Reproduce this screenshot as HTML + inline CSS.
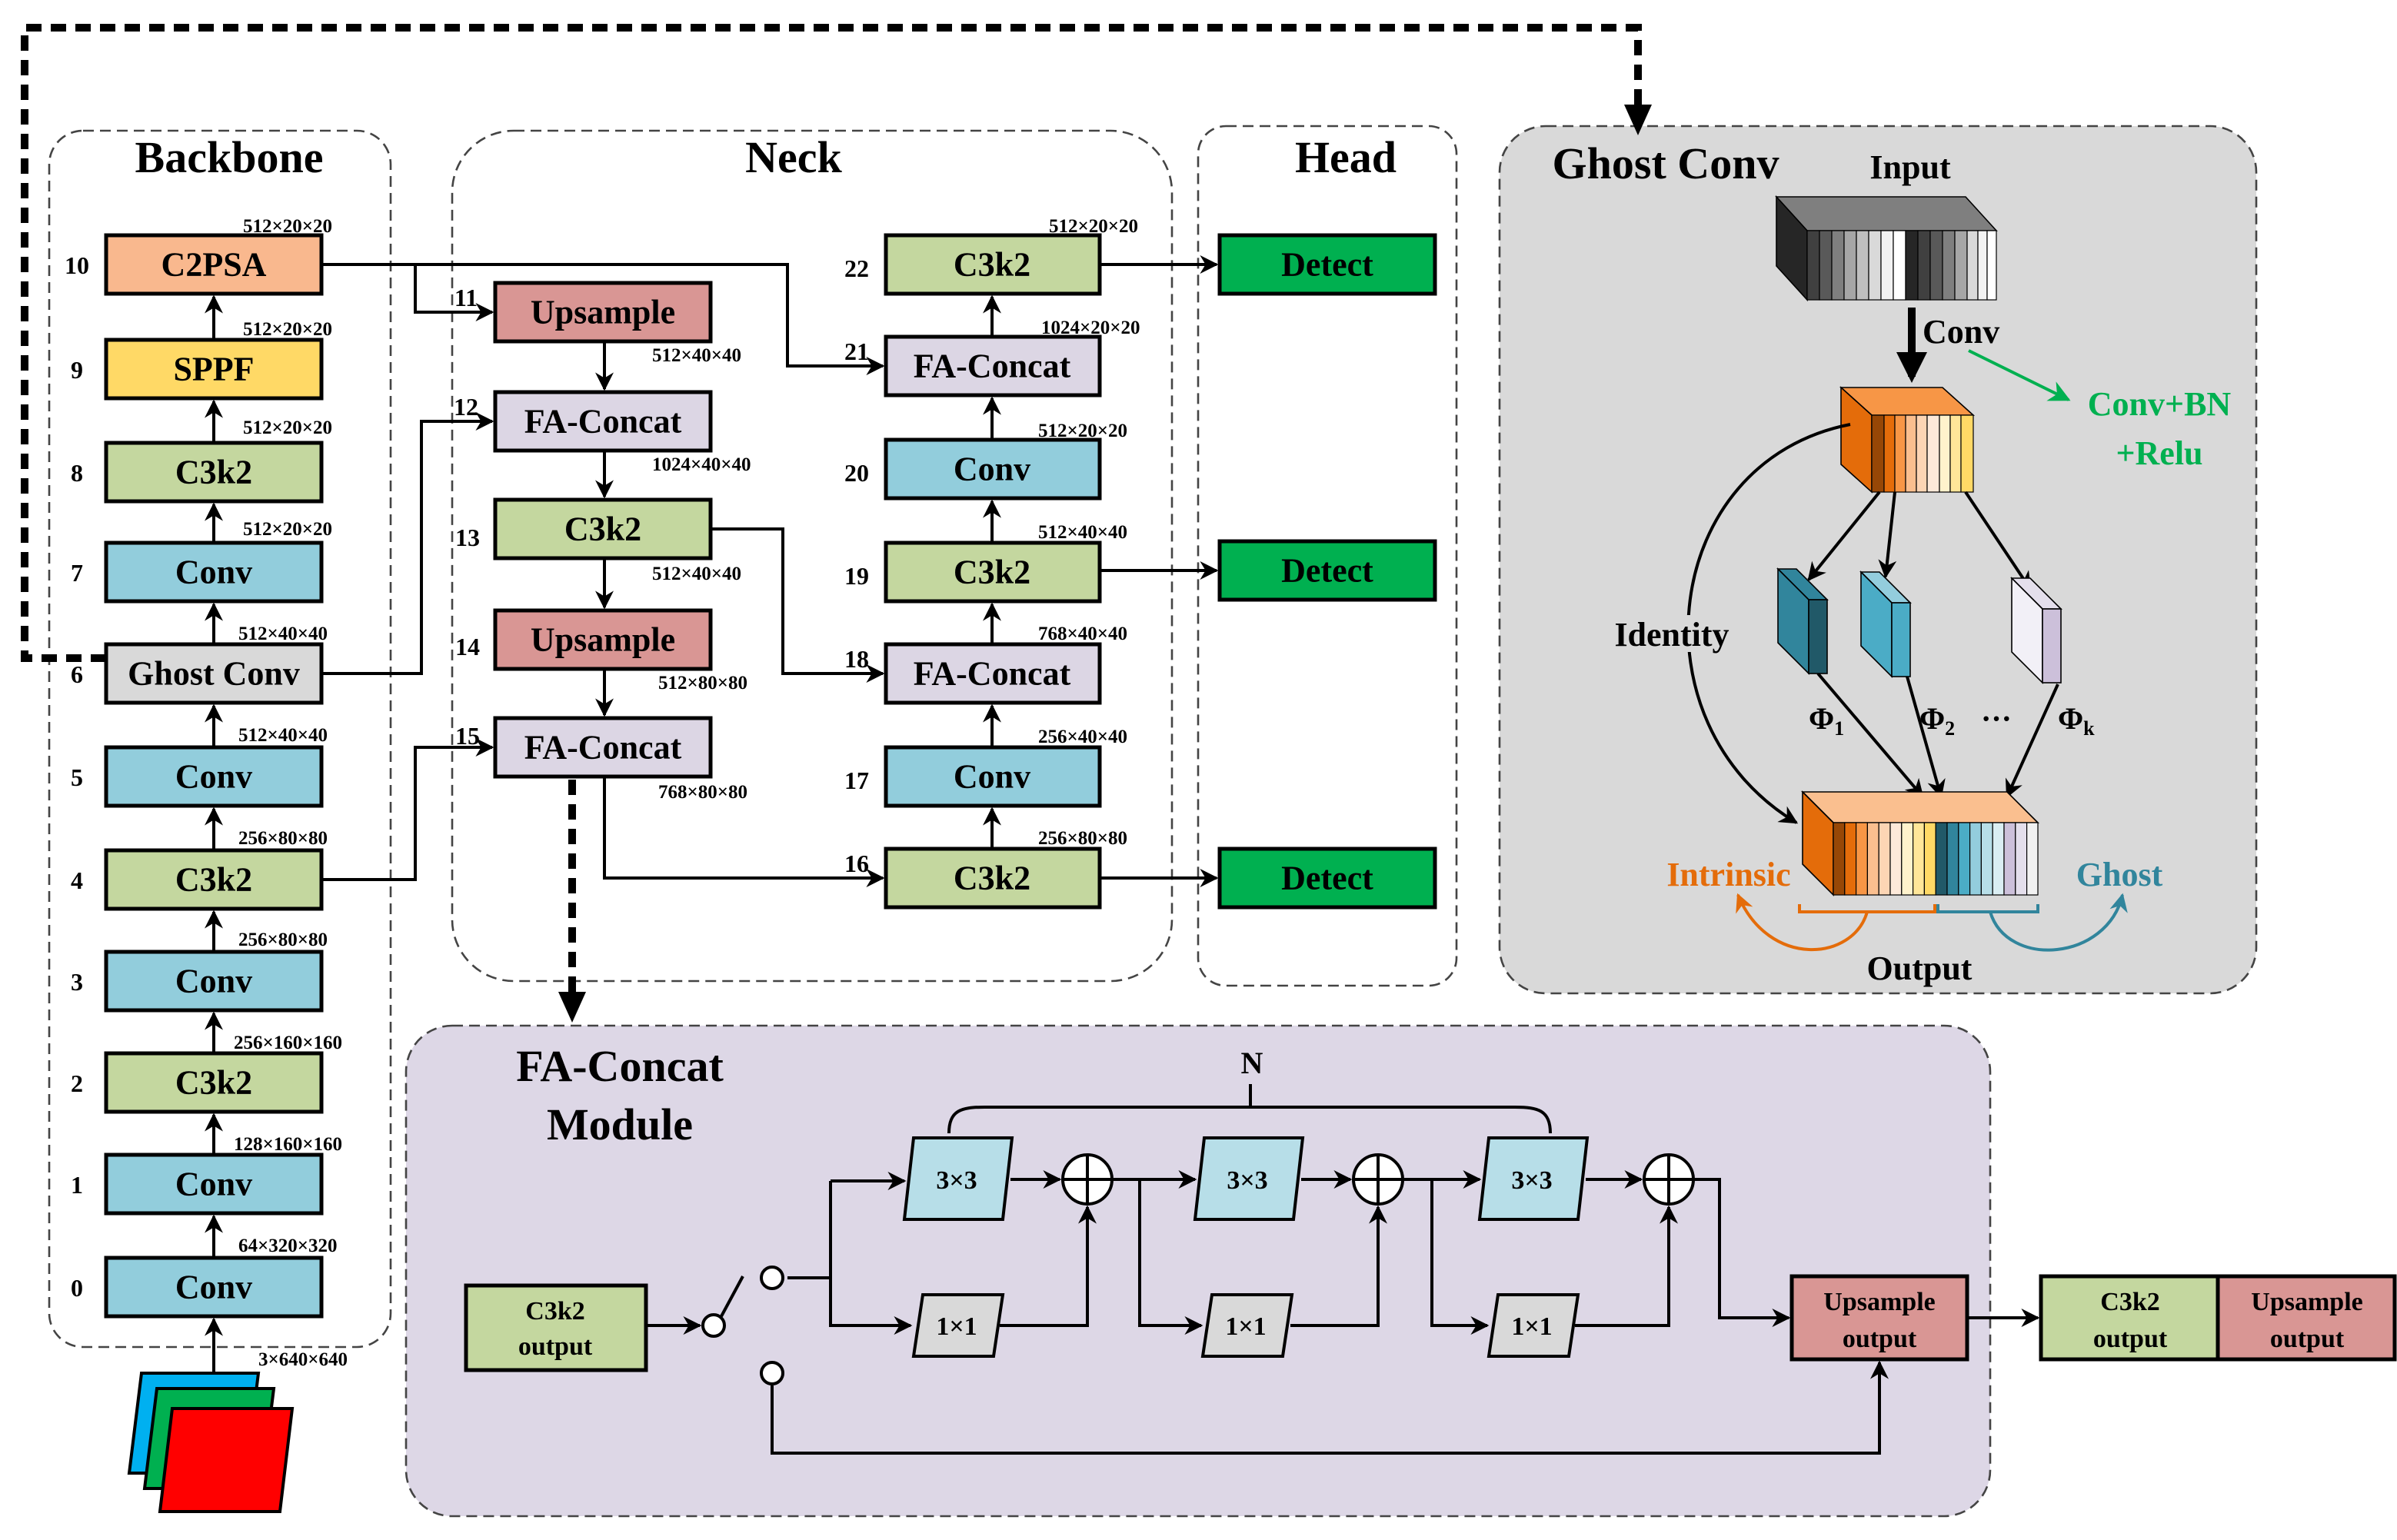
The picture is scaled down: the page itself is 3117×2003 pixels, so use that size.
<!DOCTYPE html>
<html><head><meta charset="utf-8"><style>
html,body{margin:0;padding:0;background:#fff}
svg{display:block}
text{font-family:"Liberation Serif",serif;font-weight:bold;fill:#000}
.b{font-size:22px;text-anchor:middle;dominant-baseline:central}
.d{font-size:12.5px}
.n{font-size:16px;text-anchor:middle}
.t{font-size:29px;text-anchor:middle}
.bx{stroke:#000;stroke-width:2.5}
.ln{stroke:#000;stroke-width:2;fill:none}
</style></head><body>
<svg width="3117" height="2003" viewBox="0 0 1558.5 1001.5" xmlns="http://www.w3.org/2000/svg">
<defs>
<marker id="a" viewBox="0 0 10 10" refX="9" refY="5" markerWidth="6" markerHeight="6" orient="auto"><path d="M0,0L10,5L0,10L3,5z" fill="#000"/></marker>
<marker id="ab" viewBox="0 0 10 10" refX="8" refY="5" markerWidth="4" markerHeight="4" orient="auto"><path d="M0,0L10,5L0,10z" fill="#000"/></marker>
<marker id="ag" viewBox="0 0 10 10" refX="9" refY="5" markerWidth="7" markerHeight="7" orient="auto"><path d="M0,0L10,5L0,10L3,5z" fill="#00b050"/></marker>
<marker id="ao" viewBox="0 0 10 10" refX="9" refY="5" markerWidth="6" markerHeight="6" orient="auto"><path d="M0,0L10,5L0,10L3,5z" fill="#e46c0a"/></marker>
<marker id="at" viewBox="0 0 10 10" refX="9" refY="5" markerWidth="6" markerHeight="6" orient="auto"><path d="M0,0L10,5L0,10L3,5z" fill="#31859c"/></marker>
</defs>

<!-- panels -->
<rect x="32" y="85" width="222" height="791" rx="22" fill="none" stroke="#444" stroke-width="1.3" stroke-dasharray="7,4"/>
<rect x="294" y="85" width="468" height="553" rx="40" fill="none" stroke="#444" stroke-width="1.3" stroke-dasharray="7,4"/>
<rect x="779" y="82" width="168" height="559" rx="18" fill="none" stroke="#444" stroke-width="1.3" stroke-dasharray="7,4"/>
<rect x="975" y="82" width="492" height="564" rx="30" fill="#d9d9d9" stroke="#444" stroke-width="1.3" stroke-dasharray="7,4"/>
<rect x="264" y="667" width="1030" height="319" rx="30" fill="#ddd7e6" stroke="#444" stroke-width="1.3" stroke-dasharray="7,4"/>

<text class="t" x="149" y="112">Backbone</text>
<text class="t" x="516" y="112">Neck</text>
<text class="t" x="875" y="112">Head</text>
<text class="t" x="1083" y="116">Ghost Conv</text>

<!-- big dashed connector -->
<path d="M69,428 H16 V18 H1065 V75" fill="none" stroke="#000" stroke-width="5" stroke-dasharray="10,6"/>
<path d="M1056,68 L1065,88 L1074,68z" fill="#000"/>
<path d="M372,507 V652" fill="none" stroke="#000" stroke-width="5" stroke-dasharray="10,6"/>
<path d="M363,645 L372,665 L381,645z" fill="#000"/>

<!-- Backbone blocks -->
<g>
<rect class="bx" x="69" y="153" width="140" height="38" fill="#f9b88e"/><text class="b" x="139" y="172">C2PSA</text>
<rect class="bx" x="69" y="221" width="140" height="38" fill="#ffd966"/><text class="b" x="139" y="240">SPPF</text>
<rect class="bx" x="69" y="288" width="140" height="38" fill="#c4d79f"/><text class="b" x="139" y="307">C3k2</text>
<rect class="bx" x="69" y="353" width="140" height="38" fill="#92cddc"/><text class="b" x="139" y="372">Conv</text>
<rect class="bx" x="69" y="419" width="140" height="38" fill="#d9d9d9"/><text class="b" x="139" y="438">Ghost Conv</text>
<rect class="bx" x="69" y="486" width="140" height="38" fill="#92cddc"/><text class="b" x="139" y="505">Conv</text>
<rect class="bx" x="69" y="553" width="140" height="38" fill="#c4d79f"/><text class="b" x="139" y="572">C3k2</text>
<rect class="bx" x="69" y="619" width="140" height="38" fill="#92cddc"/><text class="b" x="139" y="638">Conv</text>
<rect class="bx" x="69" y="685" width="140" height="38" fill="#c4d79f"/><text class="b" x="139" y="704">C3k2</text>
<rect class="bx" x="69" y="751" width="140" height="38" fill="#92cddc"/><text class="b" x="139" y="770">Conv</text>
<rect class="bx" x="69" y="818" width="140" height="38" fill="#92cddc"/><text class="b" x="139" y="837">Conv</text>
</g>
<g class="n">
<text class="n" x="50" y="178">10</text><text class="n" x="50" y="246">9</text><text class="n" x="50" y="313">8</text><text class="n" x="50" y="378">7</text><text class="n" x="50" y="444">6</text><text class="n" x="50" y="511">5</text><text class="n" x="50" y="578">4</text><text class="n" x="50" y="644">3</text><text class="n" x="50" y="710">2</text><text class="n" x="50" y="776">1</text><text class="n" x="50" y="843">0</text>
</g>
<g class="ln">
<path d="M139,221 V193" marker-end="url(#a)"/><path d="M139,288 V261" marker-end="url(#a)"/><path d="M139,353 V328" marker-end="url(#a)"/><path d="M139,419 V393" marker-end="url(#a)"/><path d="M139,486 V459" marker-end="url(#a)"/><path d="M139,553 V526" marker-end="url(#a)"/><path d="M139,619 V593" marker-end="url(#a)"/><path d="M139,685 V659" marker-end="url(#a)"/><path d="M139,751 V725" marker-end="url(#a)"/><path d="M139,818 V791" marker-end="url(#a)"/><path d="M139,900 V858" marker-end="url(#a)"/>
</g>
<g class="d">
<text class="d" x="158" y="151">512×20×20</text><text class="d" x="158" y="218">512×20×20</text><text class="d" x="158" y="282">512×20×20</text><text class="d" x="158" y="348">512×20×20</text><text class="d" x="155" y="416">512×40×40</text><text class="d" x="155" y="482">512×40×40</text><text class="d" x="155" y="549">256×80×80</text><text class="d" x="155" y="615">256×80×80</text><text class="d" x="152" y="682">256×160×160</text><text class="d" x="152" y="748">128×160×160</text><text class="d" x="155" y="814">64×320×320</text><text class="d" x="168" y="888">3×640×640</text>
</g>
<!-- input image -->
<polygon points="92,893 168,893 160,958 84,958" fill="#00b0f0" stroke="#000" stroke-width="2"/>
<polygon points="102,903 178,903 170,968 94,968" fill="#00b050" stroke="#000" stroke-width="2"/>
<polygon points="112,916 190,916 182,983 104,983" fill="#ff0000" stroke="#000" stroke-width="2"/>

<!-- Neck left -->
<rect class="bx" x="322" y="184" width="140" height="38" fill="#d99694"/><text class="b" x="392" y="203">Upsample</text>
<rect class="bx" x="322" y="255" width="140" height="38" fill="#dcd6e4"/><text class="b" x="392" y="274">FA-Concat</text>
<rect class="bx" x="322" y="325" width="140" height="38" fill="#c4d79f"/><text class="b" x="392" y="344">C3k2</text>
<rect class="bx" x="322" y="397" width="140" height="38" fill="#d99694"/><text class="b" x="392" y="416">Upsample</text>
<rect class="bx" x="322" y="467" width="140" height="38" fill="#dcd6e4"/><text class="b" x="392" y="486">FA-Concat</text>
<text class="n" x="303" y="199">11</text><text class="n" x="303" y="270">12</text><text class="n" x="304" y="355">13</text><text class="n" x="304" y="426">14</text><text class="n" x="304" y="484">15</text>
<text class="d" x="424" y="235">512×40×40</text><text class="d" x="424" y="306">1024×40×40</text><text class="d" x="424" y="377">512×40×40</text><text class="d" x="428" y="448">512×80×80</text><text class="d" x="428" y="519">768×80×80</text>

<!-- Neck right -->
<rect class="bx" x="576" y="153" width="139" height="38" fill="#c4d79f"/><text class="b" x="645" y="172">C3k2</text>
<rect class="bx" x="576" y="219" width="139" height="38" fill="#dcd6e4"/><text class="b" x="645" y="238">FA-Concat</text>
<rect class="bx" x="576" y="286" width="139" height="38" fill="#92cddc"/><text class="b" x="645" y="305">Conv</text>
<rect class="bx" x="576" y="353" width="139" height="38" fill="#c4d79f"/><text class="b" x="645" y="372">C3k2</text>
<rect class="bx" x="576" y="419" width="139" height="38" fill="#dcd6e4"/><text class="b" x="645" y="438">FA-Concat</text>
<rect class="bx" x="576" y="486" width="139" height="38" fill="#92cddc"/><text class="b" x="645" y="505">Conv</text>
<rect class="bx" x="576" y="552" width="139" height="38" fill="#c4d79f"/><text class="b" x="645" y="571">C3k2</text>
<text class="n" x="557" y="180">22</text><text class="n" x="557" y="234">21</text><text class="n" x="557" y="313">20</text><text class="n" x="557" y="380">19</text><text class="n" x="557" y="434">18</text><text class="n" x="557" y="513">17</text><text class="n" x="557" y="567">16</text>
<text class="d" x="682" y="151">512×20×20</text><text class="d" x="677" y="217">1024×20×20</text><text class="d" x="675" y="284">512×20×20</text><text class="d" x="675" y="350">512×40×40</text><text class="d" x="675" y="416">768×40×40</text><text class="d" x="675" y="483">256×40×40</text><text class="d" x="675" y="549">256×80×80</text>

<!-- Head -->
<rect class="bx" x="793" y="153" width="140" height="38" fill="#00b050"/><text class="b" x="863" y="172">Detect</text>
<rect class="bx" x="793" y="352" width="140" height="38" fill="#00b050"/><text class="b" x="863" y="371">Detect</text>
<rect class="bx" x="793" y="552" width="140" height="38" fill="#00b050"/><text class="b" x="863" y="571">Detect</text>

<g class="ln">
<path d="M209,172 H512 V238 H574" marker-end="url(#a)"/>
<path d="M270,172 V203 H320" marker-end="url(#a)"/>
<path d="M209,438 H274 V274 H320" marker-end="url(#a)"/>
<path d="M209,572 H270 V486 H320" marker-end="url(#a)"/>
<path d="M393,222 V253" marker-end="url(#a)"/><path d="M393,293 V323" marker-end="url(#a)"/><path d="M393,363 V395" marker-end="url(#a)"/><path d="M393,435 V465" marker-end="url(#a)"/>
<path d="M462,344 H509 V438 H574" marker-end="url(#a)"/>
<path d="M393,505 V571 H574" marker-end="url(#a)"/>
<path d="M645,552 V526" marker-end="url(#a)"/><path d="M645,486 V459" marker-end="url(#a)"/><path d="M645,419 V393" marker-end="url(#a)"/><path d="M645,353 V326" marker-end="url(#a)"/><path d="M645,286 V259" marker-end="url(#a)"/><path d="M645,219 V193" marker-end="url(#a)"/>
<path d="M715,172 H791" marker-end="url(#a)"/><path d="M715,371 H791" marker-end="url(#a)"/><path d="M715,571 H791" marker-end="url(#a)"/>
</g>

<!-- Ghost Conv contents -->
<text x="1242" y="116" style="font-size:22px;text-anchor:middle">Input</text>
<polygon points="1155,128 1278,128 1298,150 1175,150" fill="#7f7f7f" stroke="#000" stroke-width="0.8"/>
<polygon points="1155,128 1175,150 1175,195 1155,173" fill="#262626" stroke="#000" stroke-width="0.8"/>
<g stroke="#000" stroke-width="0.6">
<rect x="1175" y="150" width="8" height="45" fill="#404040"/><rect x="1183" y="150" width="8" height="45" fill="#595959"/><rect x="1191" y="150" width="8" height="45" fill="#7f7f7f"/><rect x="1199" y="150" width="8" height="45" fill="#a6a6a6"/><rect x="1207" y="150" width="8" height="45" fill="#bfbfbf"/><rect x="1215" y="150" width="8" height="45" fill="#d9d9d9"/><rect x="1223" y="150" width="8" height="45" fill="#f2f2f2"/><rect x="1231" y="150" width="8" height="45" fill="#ffffff"/>
<rect x="1239" y="150" width="8" height="45" fill="#262626"/><rect x="1247" y="150" width="8" height="45" fill="#404040"/><rect x="1255" y="150" width="8" height="45" fill="#595959"/><rect x="1263" y="150" width="8" height="45" fill="#7f7f7f"/><rect x="1271" y="150" width="8" height="45" fill="#a6a6a6"/><rect x="1279" y="150" width="7" height="45" fill="#d9d9d9"/><rect x="1286" y="150" width="6" height="45" fill="#f2f2f2"/><rect x="1292" y="150" width="6" height="45" fill="#fff"/>
</g>
<path d="M1243,200 V245" stroke="#000" stroke-width="5" marker-end="url(#ab)"/>
<text x="1250" y="223" style="font-size:22px">Conv</text>
<path d="M1280,228 L1345,260" stroke="#00b050" stroke-width="2" marker-end="url(#ag)"/>
<text x="1404" y="270" style="font-size:22px;fill:#00b050;text-anchor:middle">Conv+BN</text>
<text x="1404" y="302" style="font-size:22px;fill:#00b050;text-anchor:middle">+Relu</text>

<polygon points="1197,252 1263,252 1283,270 1217,270" fill="#f79646" stroke="#000" stroke-width="0.8"/>
<polygon points="1197,252 1217,270 1217,320 1197,302" fill="#e46c0a" stroke="#000" stroke-width="0.8"/>
<g stroke="#000" stroke-width="0.6">
<rect x="1217" y="270" width="8" height="50" fill="#974706"/><rect x="1225" y="270" width="7" height="50" fill="#e46c0a"/><rect x="1232" y="270" width="7" height="50" fill="#f79646"/><rect x="1239" y="270" width="7" height="50" fill="#fabf8f"/><rect x="1246" y="270" width="7" height="50" fill="#fcd5b4"/><rect x="1253" y="270" width="8" height="50" fill="#fde9d9"/><rect x="1261" y="270" width="7" height="50" fill="#fff2cc"/><rect x="1268" y="270" width="7" height="50" fill="#ffe699"/><rect x="1275" y="270" width="8" height="50" fill="#ffd966"/>
</g>
<g class="ln">
<path d="M1222,320 L1176,377" marker-end="url(#a)"/>
<path d="M1232,320 L1226,375" marker-end="url(#a)"/>
<path d="M1278,320 L1320,383" marker-end="url(#a)"/>
<path d="M1182,438 L1250,518" marker-end="url(#a)"/>
<path d="M1240,440 L1262,518" marker-end="url(#a)"/>
<path d="M1338,445 L1305,518" marker-end="url(#a)"/>
<path d="M1203,276 C1080,300 1060,470 1168,535" marker-end="url(#a)"/>
</g>
<polygon points="1156,370 1168,370 1188,390 1176,390" fill="#31859c" stroke="#000" stroke-width="0.8"/>
<polygon points="1156,370 1176,390 1176,438 1156,418" fill="#31859c" stroke="#000" stroke-width="0.8"/>
<rect x="1176" y="390" width="12" height="48" fill="#215968" stroke="#000" stroke-width="0.8"/>
<polygon points="1210,372 1222,372 1242,392 1230,392" fill="#93cddd" stroke="#000" stroke-width="0.8"/>
<polygon points="1210,372 1230,392 1230,440 1210,420" fill="#4bacc6" stroke="#000" stroke-width="0.8"/>
<rect x="1230" y="392" width="12" height="48" fill="#4bacc6" stroke="#000" stroke-width="0.8"/>
<polygon points="1308,376 1320,376 1340,396 1328,396" fill="#e4dfec" stroke="#000" stroke-width="0.8"/>
<polygon points="1308,376 1328,396 1328,444 1308,424" fill="#f2f0f7" stroke="#000" stroke-width="0.8"/>
<rect x="1328" y="396" width="12" height="48" fill="#ccc0da" stroke="#000" stroke-width="0.8"/>
<rect x="1048" y="400" width="80" height="24" fill="#d9d9d9"/>
<text x="1087" y="420" style="font-size:22px;text-anchor:middle">Identity</text>
<text x="1176" y="474" style="font-size:20px">Φ<tspan style="font-size:13px" dy="4">1</tspan></text>
<text x="1248" y="474" style="font-size:20px">Φ<tspan style="font-size:13px" dy="4">2</tspan></text>
<text x="1288" y="474" style="font-size:20px">···</text>
<text x="1338" y="474" style="font-size:20px">Φ<tspan style="font-size:13px" dy="4">k</tspan></text>

<polygon points="1172,515 1305,515 1325,535 1192,535" fill="#fabf8f" stroke="#000" stroke-width="0.8"/>
<polygon points="1172,515 1192,535 1192,582 1172,562" fill="#e46c0a" stroke="#000" stroke-width="0.8"/>
<g stroke="#000" stroke-width="0.6">
<rect x="1192" y="535" width="7.4" height="47" fill="#974706"/><rect x="1199.4" y="535" width="7.4" height="47" fill="#e46c0a"/><rect x="1206.8" y="535" width="7.4" height="47" fill="#f79646"/><rect x="1214.2" y="535" width="7.4" height="47" fill="#fabf8f"/><rect x="1221.6" y="535" width="7.4" height="47" fill="#fcd5b4"/><rect x="1229" y="535" width="7.4" height="47" fill="#fde9d9"/><rect x="1236.4" y="535" width="7.4" height="47" fill="#fff2cc"/><rect x="1243.8" y="535" width="7.4" height="47" fill="#ffe699"/><rect x="1251.2" y="535" width="7.4" height="47" fill="#ffd966"/>
<rect x="1258.6" y="535" width="7.4" height="47" fill="#215968"/><rect x="1266" y="535" width="7.4" height="47" fill="#31859c"/><rect x="1273.4" y="535" width="7.4" height="47" fill="#4bacc6"/><rect x="1280.8" y="535" width="7.4" height="47" fill="#93cddd"/><rect x="1288.2" y="535" width="7.4" height="47" fill="#b7dee8"/><rect x="1295.6" y="535" width="7.4" height="47" fill="#daeef3"/><rect x="1303" y="535" width="7.4" height="47" fill="#ccc0da"/><rect x="1310.4" y="535" width="7.4" height="47" fill="#e4dfec"/><rect x="1317.8" y="535" width="7.2" height="47" fill="#f2f2f2"/>
</g>
<path d="M1170,588 V593 H1258 V588 M1214,593 C1205,625 1150,630 1130,582" fill="none" stroke="#e46c0a" stroke-width="2" marker-end="url(#ao)"/>
<path d="M1260,588 V593 H1325 V588 M1294,593 C1305,630 1370,625 1380,582" fill="none" stroke="#31859c" stroke-width="2" marker-end="url(#at)"/>
<text x="1124" y="576" style="font-size:22px;fill:#e46c0a;text-anchor:middle">Intrinsic</text>
<text x="1378" y="576" style="font-size:22px;fill:#31859c;text-anchor:middle">Ghost</text>
<text x="1248" y="637" style="font-size:22px;text-anchor:middle">Output</text>

<!-- FA-Concat Module -->
<text class="t" x="403" y="703">FA-Concat</text>
<text class="t" x="403" y="741">Module</text>
<text x="814" y="698" style="font-size:20px;text-anchor:middle">N</text>
<path d="M617,737 C617,722 625,720 640,720 H985 C1000,720 1008,722 1008,737 M813,720 V705" fill="none" stroke="#000" stroke-width="2"/>

<rect class="bx" x="303" y="836" width="117" height="55" fill="#c4d79f"/>
<text x="361" y="858" style="font-size:17px;text-anchor:middle">C3k2</text><text x="361" y="881" style="font-size:17px;text-anchor:middle">output</text>
<g class="ln">
<path d="M420,862 H455" marker-end="url(#a)"/>
<path d="M469,856 L483,830"/>
<path d="M512,831 H540 V862 H592" marker-end="url(#a)"/>
<path d="M540,768 H588" marker-end="url(#a)"/>
<path d="M540,831 V768"/>
<path d="M657,767 H689" marker-end="url(#a)"/>
<path d="M650,862 H707 V785" marker-end="url(#a)"/>
<path d="M723,767 H777" marker-end="url(#a)"/>
<path d="M741,767 V862 H781" marker-end="url(#a)"/>
<path d="M846,767 H878" marker-end="url(#a)"/>
<path d="M839,862 H896 V785" marker-end="url(#a)"/>
<path d="M912,767 H962" marker-end="url(#a)"/>
<path d="M931,767 V862 H967" marker-end="url(#a)"/>
<path d="M1031,767 H1067" marker-end="url(#a)"/>
<path d="M1024,862 H1085 V785" marker-end="url(#a)"/>
<path d="M1101,767 H1118 V857 H1163" marker-end="url(#a)"/>
<path d="M502,901 V945 H1222 V886" marker-end="url(#a)"/>
<path d="M1279,857 H1325" marker-end="url(#a)"/>
</g>
<circle cx="464" cy="862" r="7" fill="#fff" stroke="#000" stroke-width="2"/>
<circle cx="502" cy="831" r="7" fill="#fff" stroke="#000" stroke-width="2"/>
<circle cx="502" cy="893" r="7" fill="#fff" stroke="#000" stroke-width="2"/>
<g stroke="#000" stroke-width="2">
<polygon points="594,740 658,740 652,793 588,793" fill="#b7dee8"/>
<polygon points="783,740 847,740 841,793 777,793" fill="#b7dee8"/>
<polygon points="968,740 1032,740 1026,793 962,793" fill="#b7dee8"/>
<polygon points="600,842 652,842 646,882 594,882" fill="#d9d9d9"/>
<polygon points="788,842 840,842 834,882 782,882" fill="#d9d9d9"/>
<polygon points="974,842 1026,842 1020,882 968,882" fill="#d9d9d9"/>
</g>
<text x="622" y="773" style="font-size:17px;text-anchor:middle">3×3</text>
<text x="811" y="773" style="font-size:17px;text-anchor:middle">3×3</text>
<text x="996" y="773" style="font-size:17px;text-anchor:middle">3×3</text>
<text x="622" y="868" style="font-size:17px;text-anchor:middle">1×1</text>
<text x="810" y="868" style="font-size:17px;text-anchor:middle">1×1</text>
<text x="996" y="868" style="font-size:17px;text-anchor:middle">1×1</text>
<g fill="#fff" stroke="#000" stroke-width="2">
<circle cx="707" cy="767" r="16"/><circle cx="896" cy="767" r="16"/><circle cx="1085" cy="767" r="16"/>
</g>
<path d="M691,767H723M707,751V783M880,767H912M896,751V783M1069,767H1101M1085,751V783" stroke="#000" stroke-width="2"/>
<rect class="bx" x="1165" y="830" width="114" height="54" fill="#d99694"/>
<text x="1222" y="852" style="font-size:17px;text-anchor:middle">Upsample</text><text x="1222" y="876" style="font-size:17px;text-anchor:middle">output</text>
<rect class="bx" x="1327" y="830" width="115" height="54" fill="#c4d79f"/>
<text x="1385" y="852" style="font-size:17px;text-anchor:middle">C3k2</text><text x="1385" y="876" style="font-size:17px;text-anchor:middle">output</text>
<rect class="bx" x="1442" y="830" width="115" height="54" fill="#d99694"/>
<text x="1500" y="852" style="font-size:17px;text-anchor:middle">Upsample</text><text x="1500" y="876" style="font-size:17px;text-anchor:middle">output</text>
</svg>
</body></html>
